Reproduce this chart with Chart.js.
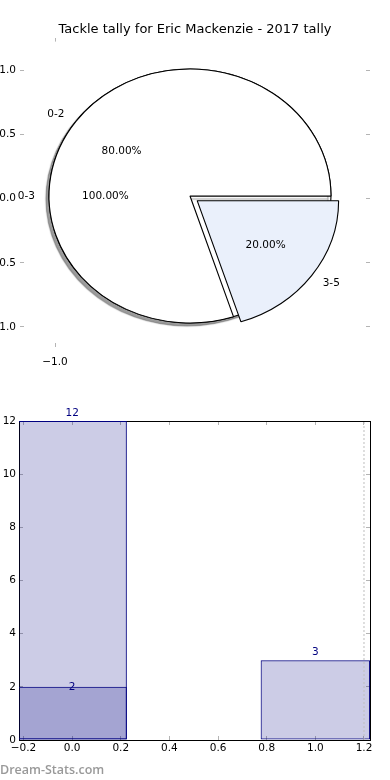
<!DOCTYPE html>
<html>
<head>
<meta charset="utf-8">
<script src="https://cdn.jsdelivr.net/npm/chart.js@4.4.1/dist/chart.umd.min.js"></script>
<style>
  html, body { margin: 0; padding: 0; background: #fff; }
  body { width: 390px; height: 780px; position: relative; overflow: hidden; }
  canvas { position: absolute; left: 0; }
  #wm { position: absolute; left: 0; top: 761px; font: 600 12.5px 'Open Sans', sans-serif; color: #999; }
</style>
</head>
<body>
<canvas id="pieAxes" style="top:0" width="390" height="390"></canvas>
<canvas id="pieBack" style="top:0" width="390" height="390"></canvas>
<canvas id="pieFront" style="top:0" width="390" height="390"></canvas>
<canvas id="bars" style="top:390px" width="390" height="390"></canvas>
<div id="wm">Dream-Stats.com</div>
<script>
// data
const tallyLabels = ['0-2', '3-5'];
const tallyValues = [12, 3];
const tallyPositions = [0, 1];
const overallLabels = ['0-3'];
const overallValues = [2];
const overallPositions = [0];
const markerX = [1.2];

// tick values
const pieTicksX = [-1];
const pieTicksY = [-1, -0.5, 0, 0.5, 1];
const barTicksX = [-0.2, 0, 0.2, 0.4, 0.6, 0.8, 1.0, 1.2];
const barTicksY = [0, 2, 4, 6, 8, 10, 12];

const NAVY = '#000080';
const BAR_FILL = 'rgba(0,0,128,0.2)';
const TICK_GREY = '#b4b4b4';
const BAR_WIDTH = 0.45;   // in x units
const PIE_CX = 190, PIE_CY = 196, PIE_R = 127, PIE_SX = 141 / 127;
const EXPLODE = 32;       // chart.js arc offset (moves the slice offset/4 px)

Chart.defaults.font.family = "'DejaVu Sans', sans-serif";
Chart.defaults.font.size = 10.5;
Chart.defaults.color = '#000';

const fmt1 = v => (v < 0 ? '\u2212' : '') + Math.abs(v).toFixed(1);
const sum = a => a.reduce((s, v) => s + v, 0);

// matplotlib-like axis: inward grey ticks, fixed box size
function axis(position, min, max, values, o) {
  const ticks = { display: !!o.format, padding: o.padding || 0, maxRotation: 0, autoSkip: false, color: '#000' };
  if (o.format) ticks.callback = o.format;
  return {
    type: 'linear', position, min, max, display: true, offset: false,
    afterBuildTicks: s => { s.ticks = values.map(v => ({ value: v })); },
    afterFit: s => { if (s.isHorizontal()) s.height = o.size; else s.width = o.size; },
    grid: { display: true, offset: false, drawOnChartArea: false, drawTicks: true, tickLength: -4,
            color: TICK_GREY, tickColor: TICK_GREY, tickWidth: 1 },
    border: { display: !!o.frame, color: '#000', width: 1 },
    ticks
  };
}

const quiet = { legend: { display: false }, tooltip: { enabled: false } };

// axes + title behind the pie
new Chart(document.getElementById('pieAxes'), {
  type: 'scatter',
  data: { datasets: [] },
  options: {
    responsive: false, animation: false, events: [],
    plugins: Object.assign({}, quiet, {
      title: { display: true, text: 'Tackle tally for Eric Mackenzie - 2017 tally', color: '#000',
               font: { size: 13, weight: 'normal', lineHeight: 1.2 }, padding: { top: 22, bottom: 0 } }
    }),
    scales: {
      x: axis('bottom', -1.25, 1.25, pieTicksX, { size: 43, padding: 13, format: fmt1 }),
      x2: axis('top', -1.25, 1.25, pieTicksX, { size: 0 }),
      y: axis('left', -1.156, 1.255, pieTicksY, { size: 20, padding: 8, format: fmt1 }),
      y2: axis('right', -1.156, 1.255, pieTicksY, { size: 20 })
    }
  }
});

// stretch the pie into an ellipse, optional soft shadow
function ellipsePie(shadow) {
  return {
    id: 'ellipsePie',
    beforeDatasetsDraw(chart) {
      const ctx = chart.ctx, a = chart.chartArea;
      const cx = (a.left + a.right) / 2, cy = (a.top + a.bottom) / 2;
      ctx.save();
      ctx.translate(cx, cy); ctx.scale(PIE_SX, 1); ctx.translate(-cx, -cy);
      if (shadow) {
        ctx.shadowColor = 'rgba(60,60,60,0.5)';
        ctx.shadowOffsetX = -3; ctx.shadowOffsetY = 3; ctx.shadowBlur = 1;
      }
    },
    afterDatasetsDraw(chart) { chart.ctx.restore(); }
  };
}

function drawPieLabels(chart, ctx) {
  const ds = chart.data.datasets[0];
  const total = sum(ds.data);
  chart.getDatasetMeta(0).data.forEach((arc, i) => {
    const mid = (arc.startAngle + arc.endAngle) / 2;
    const shift = (arc.options.offset || 0) / 4, r = arc.outerRadius;
    const dx = Math.cos(mid), dy = Math.sin(mid);
    const at = k => [arc.x + PIE_SX * (shift + k * r) * dx, arc.y + (shift + k * r) * dy];
    let [x, y] = at(1.1);
    ctx.textAlign = dx > 1e-9 ? 'left' : 'right';
    ctx.fillText(chart.data.labels[i], x, y);
    [x, y] = at(0.6);
    ctx.textAlign = 'center';
    ctx.fillText((100 * ds.data[i] / total).toFixed(2) + '%', x, y);
  });
}

const pieLayout = { padding: { left: PIE_CX - 150, right: 390 - PIE_CX - 150, top: PIE_CY - 150, bottom: 390 - PIE_CY - 150 } };

const backPie = new Chart(document.getElementById('pieBack'), {
  type: 'pie',
  data: { labels: overallLabels, datasets: [{ data: overallValues, backgroundColor: ['#ffffff'], borderColor: '#000', borderWidth: 1 }] },
  options: { responsive: false, animation: false, events: [], radius: PIE_R, rotation: 90, layout: pieLayout, plugins: quiet },
  plugins: [ellipsePie(true)]
});

new Chart(document.getElementById('pieFront'), {
  type: 'pie',
  data: { labels: tallyLabels, datasets: [{ data: tallyValues, backgroundColor: ['#ffffff', '#eaf0fb'], borderColor: '#000', borderWidth: 1, offset: [0, EXPLODE] }] },
  options: {
    responsive: false, animation: false, events: [], radius: PIE_R,
    rotation: 450 - 360 * tallyValues[0] / sum(tallyValues),
    layout: pieLayout, plugins: quiet
  },
  plugins: [ellipsePie(false), {
    id: 'pieLabels',
    afterDraw(chart) {
      const ctx = chart.ctx;
      ctx.save();
      ctx.font = "10.5px 'DejaVu Sans'"; ctx.fillStyle = '#000'; ctx.textBaseline = 'middle';
      [backPie, chart].forEach(c => drawPieLabels(c, ctx));
      ctx.restore();
    }
  }]
});

// bar chart
const barValueLabels = {
  id: 'barValueLabels',
  afterDatasetsDraw(chart) {
    const ctx = chart.ctx;
    ctx.save();
    ctx.font = "10.5px 'DejaVu Sans'"; ctx.fillStyle = NAVY; ctx.textAlign = 'center'; ctx.textBaseline = 'alphabetic';
    chart.data.datasets.forEach((ds, di) => {
      if (ds.type === 'line') return;
      chart.getDatasetMeta(di).data.forEach((bar, i) => {
        ctx.fillText(String(ds.data[i].y), bar.x, bar.y + ds.labelShift);
      });
    });
    ctx.restore();
  }
};

const barStyle = {
  backgroundColor: BAR_FILL, borderColor: NAVY, borderWidth: 1, borderSkipped: false,
  grouped: false, categoryPercentage: 1, barPercentage: BAR_WIDTH / (barTicksX[1] - barTicksX[0]), clip: 0
};

new Chart(document.getElementById('bars'), {
  type: 'bar',
  data: {
    datasets: [
      Object.assign({ label: 'overall', data: overallPositions.map((x, i) => ({ x, y: overallValues[i] })), labelShift: 3, order: 1 }, barStyle),
      Object.assign({ label: 'tally', data: tallyPositions.map((x, i) => ({ x, y: tallyValues[i] })), labelShift: -5, order: 2 }, barStyle),
      { type: 'line', label: 'marker', data: [{ x: markerX[0], y: barTicksY[0] }, { x: markerX[0], y: barTicksY[barTicksY.length - 1] }],
        borderColor: '#bdbdbd', borderWidth: 1, borderDash: [2, 2], pointRadius: 0, order: 0, clip: 0 }
    ]
  },
  options: {
    responsive: false, animation: false, events: [],
    plugins: quiet,
    scales: {
      x: axis('bottom', -0.2185, 1.2247, barTicksX, { size: 40, padding: 6, format: fmt1, frame: true }),
      x2: axis('top', -0.2185, 1.2247, barTicksX, { size: 31, frame: true }),
      y: axis('left', 0, 12, barTicksY, { size: 19, padding: 7, format: v => String(v), frame: true }),
      y2: axis('right', 0, 12, barTicksY, { size: 20, frame: true })
    }
  },
  plugins: [barValueLabels]
});
</script>
</body>
</html>
